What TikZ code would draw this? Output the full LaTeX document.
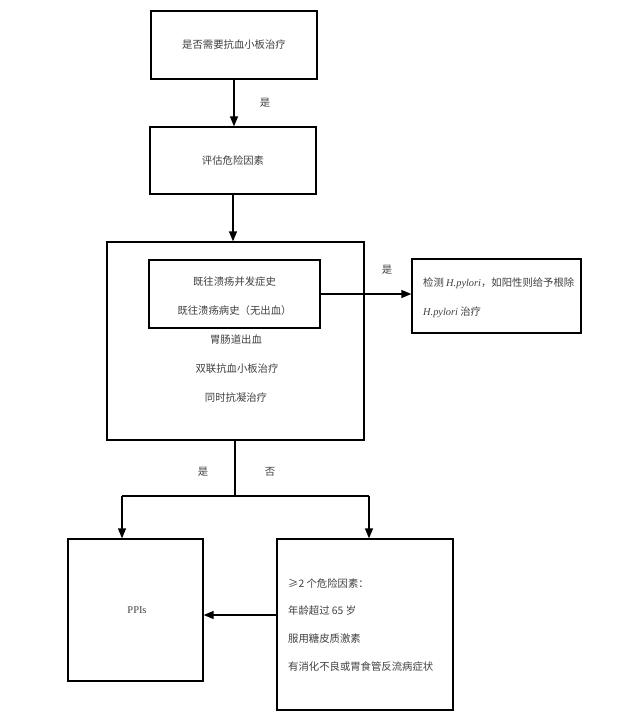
\documentclass[tikz,border=0pt]{standalone}
\usepackage{fontspec}
\setmainfont{Liberation Serif}
\newfontfamily\cjk{Noto Sans CJK SC}
\usetikzlibrary{arrows.meta}
\begin{document}
\begin{tikzpicture}[x=1bp,y=-1bp,
  box/.style={draw=black,line width=1.3bp,inner sep=0pt,fill=white},
  txt/.style={text=black!75,font=\fontsize{10.4}{12}\selectfont\cjk,inner sep=0pt},
  ltxt/.style={txt,anchor=west},
  conn/.style={draw=black,line width=1.3bp},
  arr/.style={conn,-{Triangle[length=10bp,width=8bp]}}]
\useasboundingbox (0,0) rectangle (626,723);
% boxes
\node[box,minimum width=166bp,minimum height=68bp] (b1) at (234,45) {};
\node[txt] (t1) at (234,45) {是否需要抗血小板治疗};
\node[box,minimum width=166bp,minimum height=67bp] (b2) at (233,160.5) {};
\node[txt] (t2) at (233,160.5) {评估危险因素};
\node[box,minimum width=257bp,minimum height=198bp] (big) at (235.5,341) {};
\node[box,minimum width=171bp,minimum height=68bp] (inner) at (234.5,294) {};
\node[txt] (i1) at (234.5,282) {既往溃疡并发症史};
\node[txt] (i2) at (234.5,311) {既往溃疡病史（无出血）};
\node[txt] (g1) at (236,340) {胃肠道出血};
\node[txt] (g2) at (237,369) {双联抗血小板治疗};
\node[txt] (g3) at (236,398) {同时抗凝治疗};
\node[box,minimum width=169bp,minimum height=74bp] (hp) at (496.5,296) {};
\node[ltxt] (h1) at (423,283) {检测 {\normalfont\itshape H.pylori}，如阳性则给予根除};
\node[ltxt] (h2) at (423,312) {{\normalfont\itshape H.pylori} 治疗};
\node[box,minimum width=135bp,minimum height=142bp] (ppi) at (135.5,610) {};
\node[txt,font=\fontsize{10.4}{12}\selectfont] (p1) at (137,610) {PPIs};
\node[box,minimum width=176bp,minimum height=171bp] (rf) at (365,624.5) {};
\node[ltxt] (r1) at (288,584) {≥2 个危险因素：};
\node[ltxt] (r2) at (288,611) {年龄超过 65 岁};
\node[ltxt] (r3) at (288,639) {服用糖皮质激素};
\node[ltxt] (r4) at (288,667) {有消化不良或胃食管反流病症状};
% labels
\node[txt] (y1) at (265,103) {是};
\node[txt] (y2) at (387,270) {是};
\node[txt] (y3) at (203,472) {是};
\node[txt] (n3) at (270,472) {否};
% connectors
\draw[arr] (b1.south) -- (b2.north -| b1.south);
\draw[arr] (b2.south) -- (big.north -| b2.south);
\draw[arr] (inner.east) -- (inner.east -| hp.west);
\coordinate (j) at (235,496);
\coordinate (jl) at (122,496);
\coordinate (jr) at (369,496);
\coordinate (a) at (277,615);
\draw[conn] (big.south -| j) -- (j);
\draw[conn] (jl) -- (jr);
\draw[arr] (jl) -- (jl |- ppi.north);
\draw[arr] (jr) -- (jr |- rf.north);
\draw[arr] (rf.west |- a) -- (ppi.east |- a);
\end{tikzpicture}
\end{document}
